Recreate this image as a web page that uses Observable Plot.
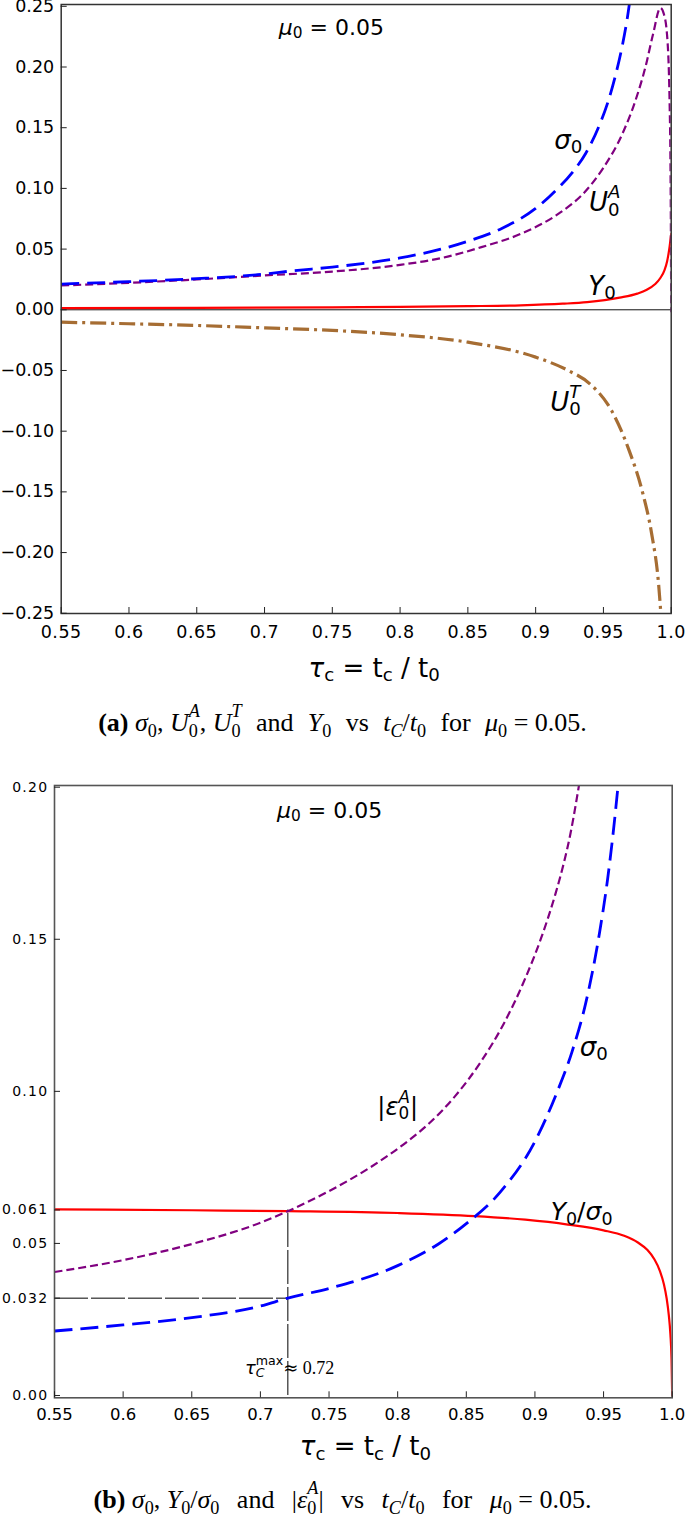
<!DOCTYPE html>
<html>
<head>
<meta charset="utf-8">
<script src="https://cdn.jsdelivr.net/npm/d3@7"></script>
<script src="https://cdn.jsdelivr.net/npm/@observablehq/plot@0.6"></script>
<style>
  html, body { margin: 0; padding: 0; background: #fff; }
  #root { position: relative; width: 685px; height: 1519px; overflow: hidden; background: #fff; }
  #root svg { position: absolute; left: 0; overflow: visible; background: transparent; }
  #root svg text { white-space: pre; }
  .cap { position: absolute; left: 0; width: 685px; text-align: center;
         font-family: "Liberation Serif", "DejaVu Serif", serif; font-size: 26px;
         line-height: 30px; color: #000; white-space: nowrap; }
  .cap sub, .cap sup { font-size: 70%; line-height: 0; }
  .cap sub { vertical-align: -0.35em; }
  .cap sup { vertical-align: 0.75em; }
  .cap .k { margin-left: -0.5em; }
  .cap .w { margin: 0 0.3em; }
  #capB .w { margin: 0 0.42em; }
</style>
</head>
<body>
<div id="root"></div>
<script>
// ---------- axis ticks ----------
const tauTicks = [0.55, 0.6, 0.65, 0.7, 0.75, 0.8, 0.85, 0.9, 0.95, 1.0];
const tauTickLabels = ["0.55", "0.6", "0.65", "0.7", "0.75", "0.8", "0.85", "0.9", "0.95", "1.0"];
const yTicksA = [-0.25, -0.2, -0.15, -0.1, -0.05, 0, 0.05, 0.1, 0.15, 0.2, 0.25];
const yTickLabelsA = ["−0.25", "−0.20", "−0.15", "−0.10", "−0.05", "0.00", "0.05", "0.10", "0.15", "0.20", "0.25"];
const yTicksB = [0, 0.032, 0.05, 0.061, 0.1, 0.15, 0.2];
const yTickLabelsB = ["0.00", "0.032", "0.05", "0.061", "0.10", "0.15", "0.20"];

// ---------- series ----------
// sigma_0 (both panels)
const sigmaTau = [0.55, 0.60, 0.65, 0.70, 0.72, 0.75, 0.80, 0.83, 0.85, 0.875, 0.90, 0.915, 0.927, 0.937, 0.947, 0.953, 0.959, 0.964, 0.968, 0.972];
const sigmaVal = [0.0212, 0.0232, 0.0256, 0.0294, 0.0320, 0.0352, 0.0427, 0.0499, 0.0565, 0.0670, 0.0835, 0.0985, 0.1130, 0.1290, 0.1520, 0.1700, 0.1935, 0.2180, 0.2430, 0.2760];
// U_0^A (panel a)
const uaTau = [0.55, 0.60, 0.65, 0.70, 0.75, 0.80, 0.83, 0.86, 0.89, 0.918, 0.935, 0.95, 0.964, 0.9735, 0.981, 0.9866, 0.992, 0.9945, 0.9969, 0.9988, 0.9997, 1.0];
const uaVal = [0.0200, 0.0222, 0.0250, 0.0283, 0.0315, 0.0370, 0.0425, 0.0516, 0.0630, 0.0800, 0.0955, 0.1170, 0.1450, 0.1720, 0.2000, 0.2270, 0.2487, 0.2440, 0.2270, 0.1720, 0.0800, -0.0020];
// Y_0 (panel a)
const y0Tau = [0.55, 0.65, 0.75, 0.80, 0.85, 0.889, 0.92, 0.938, 0.962, 0.975, 0.982, 0.988, 0.992, 0.995, 0.997, 0.9985, 1.0];
const y0Val = [0.0013, 0.0015, 0.0020, 0.0024, 0.0030, 0.0037, 0.0050, 0.0063, 0.0100, 0.0133, 0.0165, 0.0210, 0.0262, 0.0325, 0.0400, 0.0495, 0.0626];
// U_0^T (panel a)
const utTau = [0.55, 0.60, 0.65, 0.70, 0.75, 0.80, 0.85, 0.90, 0.924, 0.94, 0.956, 0.969, 0.979, 0.9855, 0.9907, 0.9930];
const utVal = [-0.0102, -0.0115, -0.0129, -0.0149, -0.0170, -0.0206, -0.0267, -0.0390, -0.0500, -0.0610, -0.0830, -0.1160, -0.1510, -0.1840, -0.2260, -0.2600];
// Y_0 / sigma_0 (panel b)
const ratioTau = [0.55, 0.65, 0.72, 0.80, 0.856, 0.893, 0.924, 0.95, 0.965, 0.975, 0.982, 0.987, 0.991, 0.994, 0.996, 0.9975, 0.9987, 0.9995, 1.0];
const ratioVal = [0.0612, 0.0609, 0.0606, 0.0600, 0.0590, 0.0578, 0.0562, 0.0543, 0.0525, 0.0503, 0.0478, 0.0448, 0.0410, 0.0365, 0.0318, 0.0265, 0.0200, 0.0120, 0.0000];
// |eps_0^A| (panel b)
const epsTau = [0.55, 0.60, 0.65, 0.70, 0.72, 0.75, 0.78, 0.807, 0.823, 0.842, 0.861, 0.877, 0.893, 0.905, 0.915, 0.921, 0.926, 0.930, 0.934, 0.938];
const epsVal = [0.0406, 0.0445, 0.0498, 0.0568, 0.0606, 0.0672, 0.0750, 0.0835, 0.0895, 0.0985, 0.1100, 0.1220, 0.1372, 0.1510, 0.1650, 0.1750, 0.1850, 0.1950, 0.2060, 0.2180];
// guide values (panel b)
const tauMax = 0.72;
const sigmaAtMax = 0.032;
const ratioAtMax = 0.061;

// ---------- label anchors (data coordinates) ----------
const labelsA = [
  {key: "L_mu", tau: 0.7493, v: 0.2325},
  {key: "L_sigma", tau: 0.924, v: 0.1395},
  {key: "L_UA", tau: 0.951, v: 0.088},
  {key: "L_Y0", tau: 0.949, v: 0.0192},
  {key: "L_UT", tau: 0.922, v: -0.0765}
];
const labelsB = [
  {key: "L_mu", tau: 0.7504, v: 0.1923},
  {key: "L_sigma", tau: 0.9429, v: 0.1145},
  {key: "L_eps", tau: 0.800, v: 0.0947},
  {key: "L_ratio", tau: 0.934, v: 0.0602},
  {key: "L_taumax", tau: 0.7213, v: 0.0089}
];

// ---------- styling ----------
const SANS = "'DejaVu Sans', sans-serif";
const SERIF = "'Liberation Serif', 'DejaVu Serif', serif";
const BROWN = "#a66d33";

const mathSpecs = {
  L_mu: {fs: 22, segs: [["μ", "b", "i"], ["0", "sub"], [" = 0.05", "b"]]},
  L_sigma: {fs: 26, segs: [["σ", "b", "i"], ["0", "sub"]]},
  L_UA: {fs: 26, segs: [["U", "b", "i"], ["0", "sub"], ["A", "supk", "i"]]},
  L_Y0: {fs: 26, segs: [["Y", "b", "i"], ["0", "sub"]]},
  L_UT: {fs: 26, segs: [["U", "b", "i"], ["0", "sub"], ["T", "supk", "i"]]},
  L_eps: {fs: 24, segs: [["|", "b"], ["ε", "b", "i"], ["0", "sub"], ["A", "supk", "i"], ["|", "b"]]},
  L_ratio: {fs: 25, segs: [["Y", "b", "i"], ["0", "sub"], ["/", "b"], ["σ", "b", "i"], ["0", "sub"]]},
  L_taumax: {fs: 18, segs: [["τ", "b", "i"], ["C", "sub", "i"], ["max", "supk"], ["≈", "b"], [" 0.72", "b", "s"]]},
  L_titleA: {fs: 26, segs: [["τ", "b", "i"], ["c", "sub"], [" = t", "b"], ["c", "sub"], [" / t", "b"], ["0", "sub"]]},
  L_titleB: {fs: 26, segs: [["τ", "b", "i"], ["c", "sub"], [" = t", "b"], ["c", "sub"], [" / t", "b"], ["0", "sub"]]}
};

function rows(xs, ys) { return xs.map((x, i) => ({tau: x, v: ys[i]})); }
function fmt(ticks, labels) {
  return d => { const i = ticks.findIndex(t => Math.abs(t - d) < 1e-9); return i < 0 ? "" : labels[i]; };
}
function labelMarks(labels) {
  return labels.map(l => Plot.text([l], {
    x: "tau", y: "v", text: "key", fontSize: mathSpecs[l.key].fs,
    fontFamily: SANS, textAnchor: "middle", lineAnchor: "middle"
  }));
}

function renderMath(svg) {
  d3.select(svg).selectAll("text").each(function () {
    const spec = mathSpecs[this.textContent];
    if (!spec) return;
    const fs = spec.fs;
    const t = d3.select(this).text(null).attr("font-size", fs);
    let cur = 0, lastW = 0;
    for (const [str, kind, style = ""] of spec.segs) {
      const s = t.append("tspan").text(str);
      let off = 0, size = fs;
      if (kind === "sub") { off = 0.17 * fs; size = 0.7 * fs; }
      if (kind === "sup" || kind === "supk") { off = -0.5 * fs; size = 0.7 * fs; }
      s.attr("font-size", size).attr("font-style", style.includes("i") ? "italic" : "normal");
      if (style.includes("s")) s.attr("font-family", SERIF);
      if (off !== cur) s.attr("dy", off - cur);
      if (kind === "supk") s.attr("dx", -lastW);
      cur = off;
      lastW = s.node().getComputedTextLength();
    }
  });
}

const root = document.getElementById("root");

// ---------- panel (a) ----------
const chartA = Plot.plot({
  width: 685, height: 700,
  marginLeft: 60.7, marginRight: 14.3, marginTop: 4, marginBottom: 87,
  style: {fontFamily: SANS, background: "transparent"},
  x: {domain: [0.55, 1.0]},
  y: {domain: [-0.2502, 0.2515]},
  marks: [
    Plot.ruleY([0], {stroke: "#111", strokeWidth: 1}),
    Plot.line(rows(utTau, utVal), {x: "tau", y: "v", stroke: BROWN, strokeWidth: 3.2, strokeDasharray: "16,5,3,5", strokeLinecap: "butt", curve: "monotone-x", clip: true}),
    Plot.line(rows(y0Tau, y0Val), {x: "tau", y: "v", stroke: "#ff0000", strokeWidth: 2.2, curve: "monotone-x", clip: true}),
    Plot.line(rows(uaTau, uaVal), {x: "tau", y: "v", stroke: "#800080", strokeWidth: 2.2, strokeDasharray: "8,4", strokeLinecap: "butt", curve: "monotone-x", clip: true}),
    Plot.line(rows(sigmaTau, sigmaVal), {x: "tau", y: "v", stroke: "#0000ff", strokeWidth: 2.8, strokeDasharray: "18,8", strokeLinecap: "butt", curve: "monotone-x", clip: true}),
    Plot.frame({stroke: "#333", strokeWidth: 1.5}),
    Plot.axisX({ticks: tauTicks, tickSize: -6, tickFormat: () => "", stroke: "#222", label: null}),
    Plot.axisX({ticks: tauTicks, tickSize: 0, tickPadding: 12, tickFormat: fmt(tauTicks, tauTickLabels), fontSize: 17.5, label: null}),
    Plot.axisY({ticks: yTicksA, tickSize: -6, tickFormat: () => "", stroke: "#222", label: null}),
    Plot.axisY({ticks: yTicksA, tickSize: 0, tickPadding: 7, tickFormat: fmt(yTicksA, yTickLabelsA), fontSize: 17.5, label: null}),
    ...labelMarks(labelsA),
    Plot.text(["L_titleA"], {text: d => d, frameAnchor: "bottom", dy: 55, dx: 8, fontSize: 26, fontFamily: SANS, lineAnchor: "middle"})
  ]
});
chartA.style.top = "0px";
root.appendChild(chartA);

const capA = document.createElement("div");
capA.className = "cap";
capA.id = "capA";
capA.style.top = "708px";
capA.innerHTML = '<b>(a)</b> <i>σ</i><sub>0</sub>, <i>U</i><sub>0</sub><sup class="k"><i>A</i></sup>, <i>U</i><sub>0</sub><sup class="k"><i>T</i></sup> <span class="w">and</span> <i>Y</i><sub>0</sub> <span class="w">vs</span> <i>t</i><sub><i>C</i></sub>/<i>t</i><sub>0</sub> <span class="w">for</span> <i>μ</i><sub>0</sub> = 0.05.';
root.appendChild(capA);

// ---------- panel (b) ----------
const chartB = Plot.plot({
  width: 685, height: 720,
  marginLeft: 54, marginRight: 13.3, marginTop: 35, marginBottom: 72.7,
  style: {fontFamily: SANS, background: "transparent"},
  x: {domain: [0.55, 1.0]},
  y: {domain: [-0.00076, 0.20056]},
  marks: [
    Plot.ruleX([tauMax], {y1: 0, y2: ratioAtMax, stroke: "#000", strokeWidth: 1, strokeDasharray: "34,3"}),
    Plot.ruleY([sigmaAtMax], {x1: 0.55, x2: tauMax, stroke: "#000", strokeWidth: 1, strokeDasharray: "34,3"}),
    Plot.line(rows(ratioTau, ratioVal), {x: "tau", y: "v", stroke: "#ff0000", strokeWidth: 2.2, curve: "monotone-x", clip: true}),
    Plot.line(rows(epsTau, epsVal), {x: "tau", y: "v", stroke: "#800080", strokeWidth: 2.2, strokeDasharray: "8,4", strokeLinecap: "butt", curve: "monotone-x", clip: true}),
    Plot.line(rows(sigmaTau, sigmaVal), {x: "tau", y: "v", stroke: "#0000ff", strokeWidth: 2.8, strokeDasharray: "18,8", strokeLinecap: "butt", curve: "monotone-x", clip: true}),
    Plot.frame({stroke: "#555", strokeWidth: 1.6}),
    Plot.axisX({ticks: tauTicks, tickSize: -6, tickFormat: () => "", stroke: "#222", label: null}),
    Plot.axisX({ticks: tauTicks, tickSize: 0, tickPadding: 10, tickFormat: fmt(tauTicks, tauTickLabels), fontSize: 16.5, label: null}),
    Plot.axisY({ticks: yTicksB, tickSize: -6, tickFormat: () => "", stroke: "#222", label: null}),
    Plot.axisY({ticks: yTicksB, tickSize: 0, tickPadding: 6, tickFormat: fmt(yTicksB, yTickLabelsB), fontSize: 14, label: null}),
    ...labelMarks(labelsB),
    Plot.text(["L_titleB"], {text: d => d, frameAnchor: "bottom", dy: 49, dx: 2, fontSize: 26, fontFamily: SANS, lineAnchor: "middle"})
  ]
});
chartB.style.top = "750px";
root.appendChild(chartB);

const capB = document.createElement("div");
capB.className = "cap";
capB.id = "capB";
capB.style.top = "1485px";
capB.innerHTML = '<b>(b)</b> <i>σ</i><sub>0</sub>, <i>Y</i><sub>0</sub>/<i>σ</i><sub>0</sub> <span class="w">and</span> |<i>ε</i><sub>0</sub><sup class="k"><i>A</i></sup>| <span class="w">vs</span> <i>t</i><sub><i>C</i></sub>/<i>t</i><sub>0</sub> <span class="w">for</span> <i>μ</i><sub>0</sub> = 0.05.';
root.appendChild(capB);

// letter spacing to mimic the slightly wide tick labels
d3.select(chartA).selectAll('[aria-label="x-axis tick label"] text').attr("letter-spacing", "0.5px");
d3.select(chartB).selectAll('[aria-label="y-axis tick label"] text').attr("letter-spacing", "1.3px");

renderMath(chartA);
renderMath(chartB);
</script>
</body>
</html>
